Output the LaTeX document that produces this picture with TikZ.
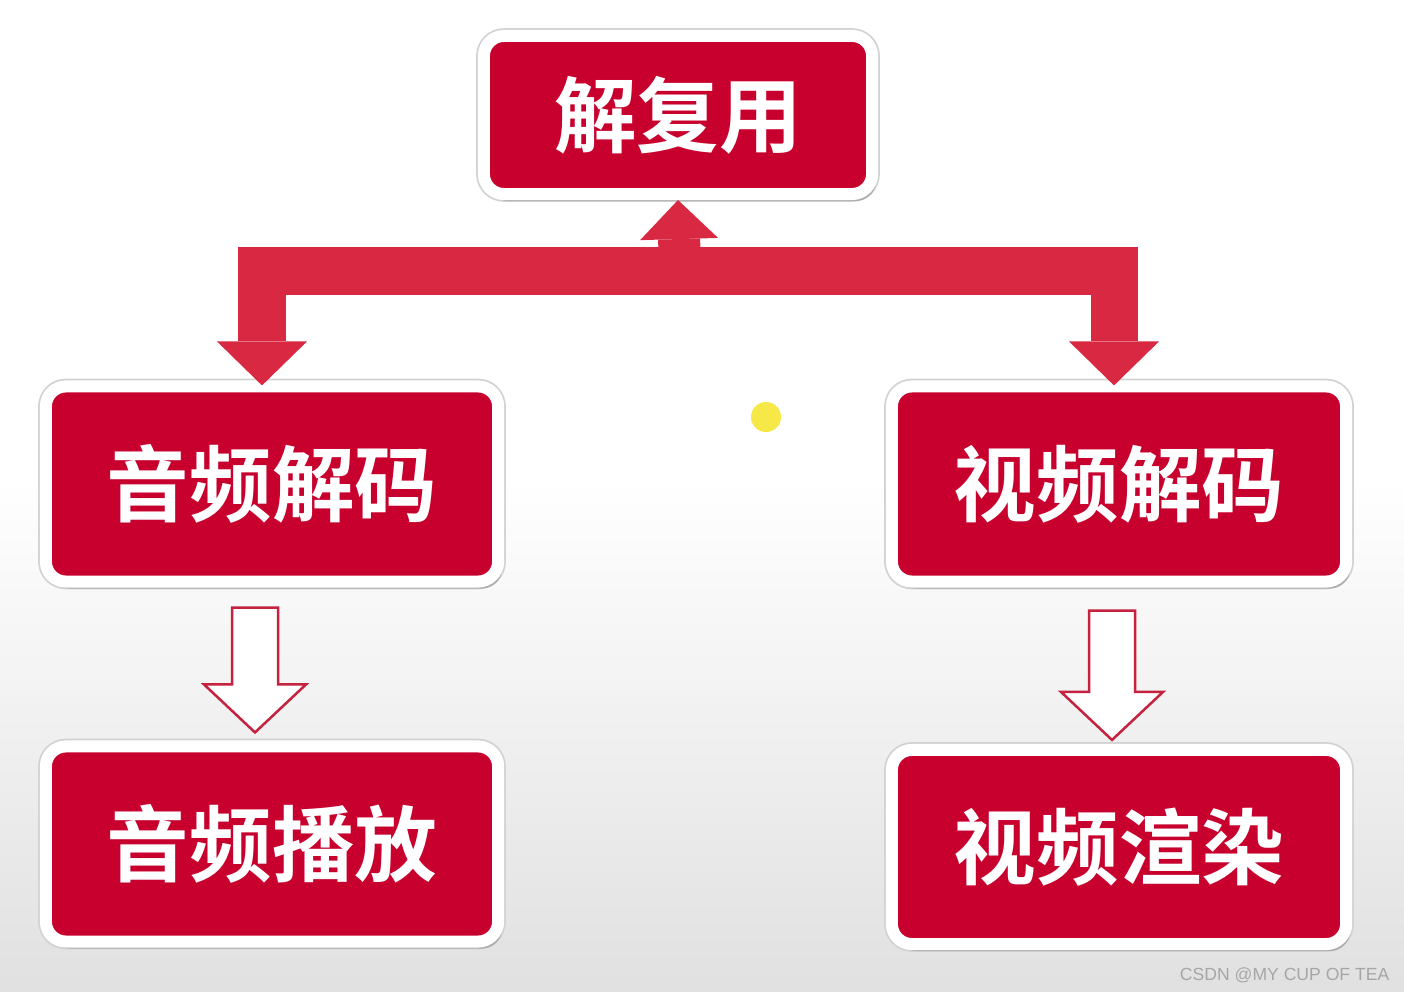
\documentclass[tikz,border=0pt]{standalone}
\usepackage{fontspec}
\setmainfont{Liberation Sans}
\newfontfamily\cjk{Noto Sans CJK SC}[BoldFont={Noto Sans CJK SC Bold}]
\usetikzlibrary{arrows.meta,calc,shadows}
\definecolor{boxred}{RGB}{200,0,46}
\definecolor{arrowred}{RGB}{217,40,66}
\definecolor{hollowred}{RGB}{196,34,62}
\definecolor{markyellow}{RGB}{246,232,70}

\newcommand{\hollowarrow}[2]{%
  \draw[hollow] ($(#1)+(-23,0)$) -- ($(#2)+(-23,-48)$) -- ($(#2)+(-51,-48)$) -- (#2)
    -- ($(#2)+(51,-48)$) -- ($(#2)+(23,-48)$) -- ($(#1)+(23,0)$) -- cycle;}

\begin{document}
\begin{tikzpicture}[
    x=0.01cm, y=-0.01cm,
    box/.style={rectangle, draw=white, line width=0.12cm, fill=boxred, rounded corners=0.2cm, align=center, text=white, font=\cjk\bfseries\fontsize{23.5}{28}\selectfont, preaction={draw=gray!35, line width=0.155cm}, drop shadow={opacity=0.45, shadow xshift=0.04cm, shadow yshift=-0.07cm}},
    fatarrow/.style={draw=arrowred, line width=0.47cm, -{Triangle[width=0.9cm, length=0.44cm, line width=0pt]}},
    uparrow/.style={draw=arrowred, line width=0.42cm, -{Triangle[width=0.78cm, length=0.39cm, line width=0pt]}},
    hollow/.style={draw=hollowred, line width=0.025cm, fill=white, line join=miter}
]
\useasboundingbox (0,0) rectangle (1404,992);

% Background
\fill[white] (0,0) rectangle (1404,480);
\shade[top color=white, bottom color=gray!24] (0,480) rectangle (1404,992);

% Boxes
\node[box, minimum width=3.88cm, minimum height=1.58cm] (demux) at (678,115) {解复用};
\node[box, minimum width=4.52cm, minimum height=1.95cm] (adec) at (272,484) {音频解码};
\node[box, minimum width=4.54cm, minimum height=1.95cm] (vdec) at (1119,484) {视频解码};
\node[box, minimum width=4.52cm, minimum height=1.95cm] (aplay) at (272,844) {音频播放};
\node[box, minimum width=4.54cm, minimum height=1.94cm] (vrend) at (1119,847) {视频渲染};

% Arrows - demux to decoders
\coordinate (bar) at (680,271);
\draw[uparrow] (bar) -- (demux.south);
\draw[fatarrow] (bar) -| ([xshift=-0.1cm, yshift=-0.05cm]adec.north);
\draw[fatarrow] (bar) -| ([xshift=-0.05cm, yshift=-0.05cm]vdec.north);

% Arrows - decoders to output
\coordinate (atop) at ($(adec.south)+(-17,20)$);
\coordinate (atip) at ($(aplay.north)+(-17,-8)$);
\coordinate (vtop) at ($(vdec.south)+(-7,23)$);
\coordinate (vtip) at ($(vrend.north)+(-7,-4)$);
\hollowarrow{atop}{atip}
\hollowarrow{vtop}{vtip}

% Pointer mark
\fill[markyellow] (766,417) circle (0.15cm);

% Watermark
\node[anchor=east, inner sep=0pt, text=gray!70, font=\fontsize{5.0}{6}\selectfont] (mark) at (1390,975) {CSDN @MY CUP OF TEA};

\end{tikzpicture}
\end{document}
